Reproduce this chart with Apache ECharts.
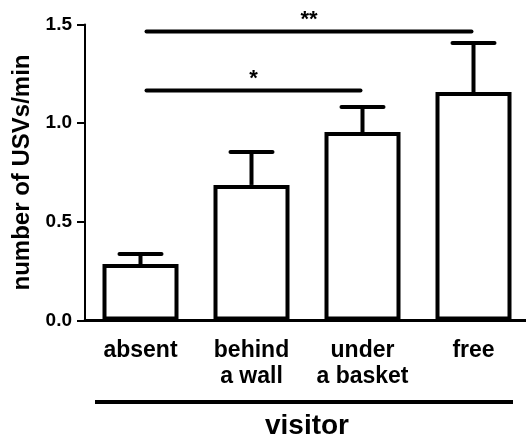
<!DOCTYPE html>
<html>
<head>
<meta charset="utf-8">
<script src="https://cdn.jsdelivr.net/npm/echarts@6/dist/echarts.min.js"></script>
<style>html,body{margin:0;padding:0;background:#fff;}#c{width:526px;height:435px;}</style>
</head>
<body>
<div id="c"></div>
<script>
var categories = ['absent', 'behind\na wall', 'under\na basket', 'free'];
var means = [0.286, 0.687, 0.955, 1.158];
var errTops = [0.337, 0.854, 1.082, 1.406];
var yTicks = [0, 0.5, 1.0, 1.5];
// significance brackets: [fromIndex, toIndex, yValue, label]
var sigFrom = [0, 0];
var sigTo = [2, 3];
var sigY = [1.165, 1.464];
var sigLabel = ['*', '**'];

var FONT = 'Liberation Sans, Arial, sans-serif';
var chart = echarts.init(document.getElementById('c'), null, {renderer: 'canvas'});

var sigData = sigFrom.map(function (f, i) { return [f, sigTo[i], sigY[i], sigLabel[i]]; });
var errData = means.map(function (m, i) { return [i, m, errTops[i]]; });

chart.setOption({
  animation: false,
  backgroundColor: '#fff',
  grid: {left: 85, top: 24.5, width: 444, height: 296, containLabel: false, outerBoundsMode: 'none'},
  xAxis: {
    type: 'category',
    data: categories,
    axisLine: {lineStyle: {color: '#000', width: 3}},
    axisTick: {show: false},
    axisLabel: {color: '#000', fontFamily: FONT, fontWeight: 'bold', fontSize: 23, lineHeight: 26, margin: 17, interval: 0},
    name: 'visitor',
    nameLocation: 'middle',
    nameGap: 92,
    nameTextStyle: {color: '#000', fontFamily: FONT, fontWeight: 'bold', fontSize: 28}
  },
  yAxis: {
    type: 'value',
    min: 0, max: 1.5, interval: 0.5,
    axisLine: {show: true, lineStyle: {color: '#000', width: 2}},
    axisTick: {show: true, length: 8, lineStyle: {color: '#000', width: 2}},
    splitLine: {show: false},
    axisLabel: {color: '#000', fontFamily: FONT, fontWeight: 'bold', fontSize: 19, margin: 13,
      formatter: function (v) { return v.toFixed(1); }},
    name: 'number of USVs/min',
    nameLocation: 'middle',
    nameGap: 51,
    nameTextStyle: {color: '#000', fontFamily: FONT, fontWeight: 'bold', fontSize: 24}
  },
  graphic: [
    {type: 'line', shape: {x1: 95, y1: 402, x2: 513, y2: 402}, style: {stroke: '#000', lineWidth: 4}}
  ],
  series: [
    {
      type: 'bar',
      data: means,
      barWidth: 76,
      itemStyle: {color: '#fff', borderColor: '#000', borderWidth: 4},
      z: 3
    },
    {
      type: 'custom',
      data: errData,
      z: 2,
      renderItem: function (params, api) {
        var base = api.coord([api.value(0), api.value(1)]);
        var top = api.coord([api.value(0), api.value(2)]);
        var hw = 21;
        return {
          type: 'group',
          children: [
            {type: 'line', shape: {x1: base[0], y1: base[1], x2: top[0], y2: top[1]}, style: {stroke: '#000', lineWidth: 4}},
            {type: 'line', shape: {x1: top[0] - hw, y1: top[1], x2: top[0] + hw, y2: top[1]}, style: {stroke: '#000', lineWidth: 4, lineCap: 'round'}}
          ]
        };
      }
    },
    {
      type: 'custom',
      data: sigData,
      z: 4,
      renderItem: function (params, api) {
        var a = api.coord([api.value(0), api.value(2)]);
        var b = api.coord([api.value(1), api.value(2)]);
        var lab = sigLabel[params.dataIndex];
        return {
          type: 'group',
          children: [
            {type: 'line', shape: {x1: a[0] + 6, y1: a[1], x2: b[0] - 2, y2: b[1]}, style: {stroke: '#000', lineWidth: 4, lineCap: 'round'}},
            {type: 'text', style: {text: lab, x: (a[0] + b[0]) / 2 + 2, y: a[1] - 1, textAlign: 'center', textVerticalAlign: 'bottom',
              font: 'bold 22px ' + FONT, fill: '#000'}}
          ]
        };
      }
    }
  ]
});
</script>
</body>
</html>
